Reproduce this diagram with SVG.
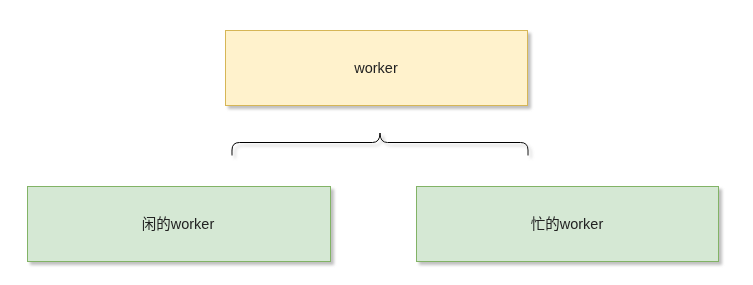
<svg xmlns="http://www.w3.org/2000/svg" width="753" height="285" viewBox="0 0 753 285">
  <defs>
    <filter id="shadow" x="-10%" y="-20%" width="130%" height="160%">
      <feGaussianBlur in="SourceAlpha" stdDeviation="1.7"/>
      <feOffset dx="3" dy="3" result="b"/>
      <feFlood flood-color="#808080" flood-opacity="0.5"/>
      <feComposite in2="b" operator="in"/>
      <feMerge><feMergeNode/><feMergeNode in="SourceGraphic"/></feMerge>
    </filter>
  </defs>
  <style>
    .lbl { font-family: "Liberation Sans", "Noto Sans CJK SC", sans-serif; font-size: 14.5px; fill: #222222; text-anchor: middle; dominant-baseline: central; }
    .yellow { fill: #fff2cc; stroke: #d6b656; stroke-width: 1; }
    .green { fill: #d5e8d4; stroke: #82b366; stroke-width: 1; }
    .brace { fill: none; stroke: #000; stroke-width: 1; }
  </style>
  <rect width="753" height="285" fill="#ffffff"/>

  <g id="worker" filter="url(#shadow)">
    <rect class="yellow" x="225.5" y="30.5" width="302" height="75"/>
    <text class="lbl" x="376" y="68">worker</text>
  </g>

  <g id="idle-worker" filter="url(#shadow)">
    <rect class="green" x="27.5" y="186.5" width="303" height="75"/>
    <text class="lbl" x="178" y="224">闲的worker</text>
  </g>

  <g id="busy-worker" filter="url(#shadow)">
    <rect class="green" x="416.5" y="186.5" width="302" height="75"/>
    <text class="lbl" x="567" y="224">忙的worker</text>
  </g>

  <g id="connectors" filter="url(#shadow)">
    <path class="brace" d="M232 155.5 V150 Q232 142.5 239.5 142.5 H372.5 Q380 142.5 380 133 Q380 142.5 387.5 142.5 H520.5 Q528 142.5 528 150 V155.5"/>
  </g>
</svg>
